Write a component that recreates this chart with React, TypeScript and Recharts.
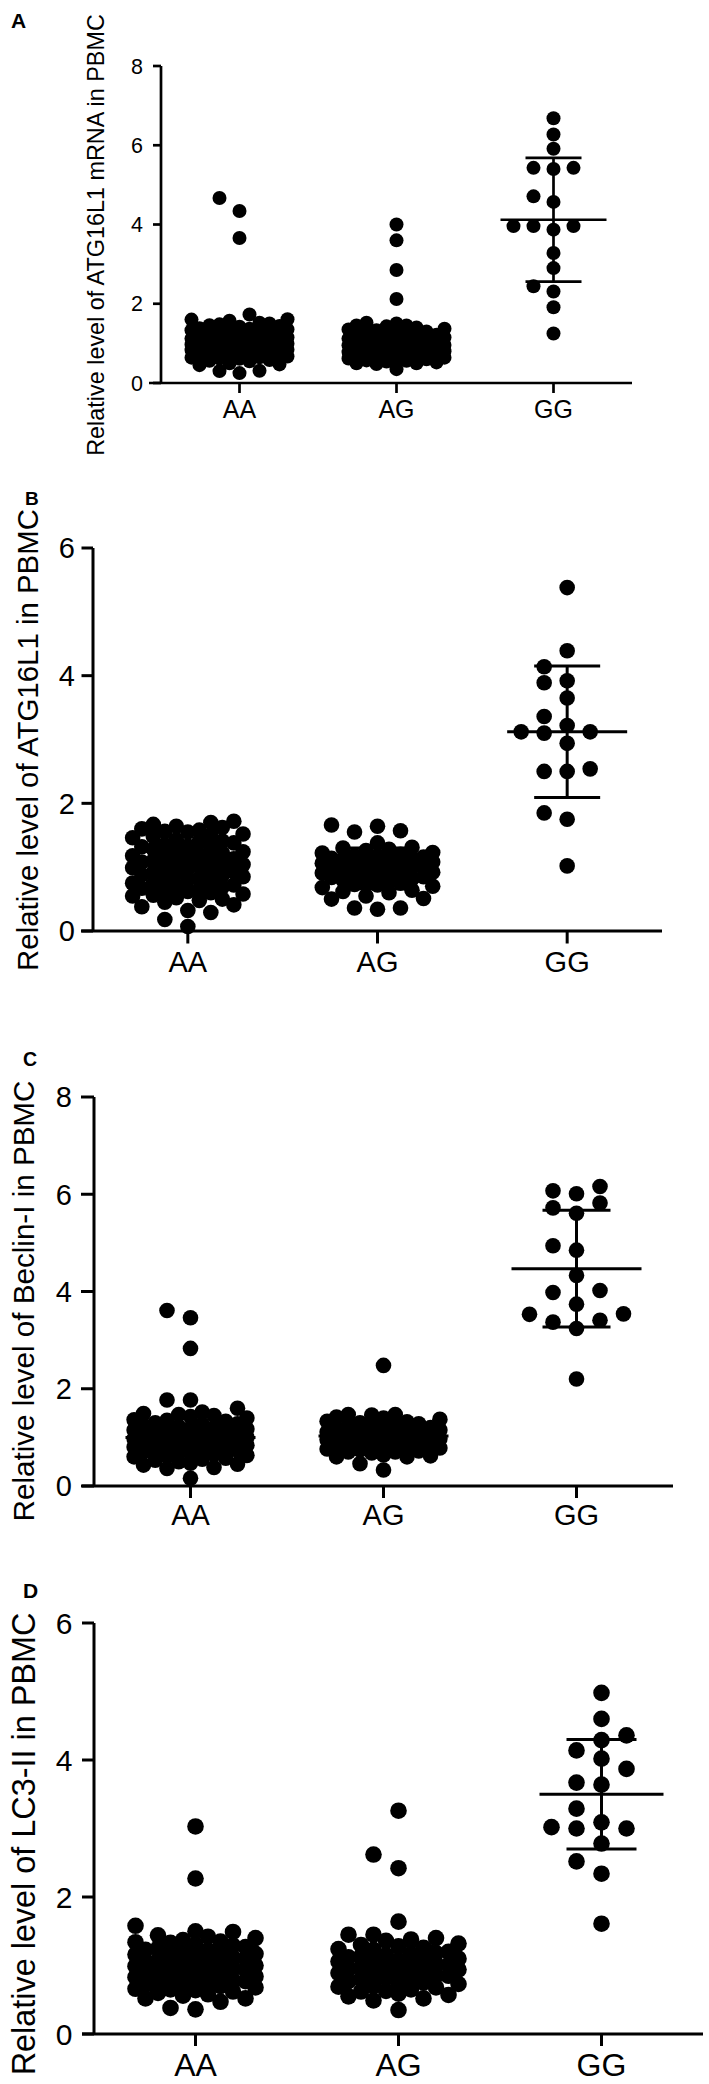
import React from "react";
import { ScatterChart, Scatter, XAxis, YAxis, ErrorBar, ReferenceLine } from "recharts";

const CATS = ["AA", "AG", "GG"];
const FONT = '"Liberation Sans", Arial, Helvetica, sans-serif';

// A: ATG16L1 mRNA
const aAA = [0.25, 0.3, 0.31, 0.45, 0.47, 0.5, 0.55, 0.56, 0.58, 0.61, 0.62, 0.64, 0.65, 0.67, 0.69, 0.7, 0.72, 0.73, 0.75, 0.77, 0.78, 0.8, 0.81, 0.83, 0.84, 0.86, 0.87, 0.88, 0.9, 0.91, 0.92, 0.93, 0.95, 0.96, 0.97, 0.99, 1.0, 1.01, 1.02, 1.03, 1.05, 1.06, 1.08, 1.09, 1.1, 1.12, 1.13, 1.15, 1.17, 1.18, 1.2, 1.21, 1.24, 1.26, 1.28, 1.3, 1.32, 1.33, 1.35, 1.37, 1.38, 1.42, 1.44, 1.46, 1.48, 1.5, 1.52, 1.57, 1.6, 1.61, 1.73, 3.66, 4.34, 4.67];
const aAG = [0.35, 0.48, 0.5, 0.5, 0.52, 0.54, 0.56, 0.57, 0.6, 0.6, 0.62, 0.64, 0.66, 0.68, 0.69, 0.7, 0.72, 0.73, 0.74, 0.76, 0.77, 0.78, 0.8, 0.82, 0.83, 0.84, 0.86, 0.87, 0.89, 0.9, 0.92, 0.93, 0.95, 0.96, 0.97, 0.98, 1.0, 1.02, 1.03, 1.05, 1.06, 1.07, 1.1, 1.12, 1.13, 1.15, 1.17, 1.18, 1.2, 1.22, 1.24, 1.26, 1.28, 1.3, 1.33, 1.35, 1.37, 1.4, 1.43, 1.45, 1.45, 1.5, 1.52, 2.12, 2.85, 3.6, 4.0];
const aGG = [6.68, 6.27, 5.91, 5.43, 5.43, 5.4, 4.71, 4.57, 3.96, 3.87, 3.96, 3.96, 3.28, 2.9, 2.31, 2.44, 1.91, 1.25];
const aMean = [0.98, 0.94, 4.12];
const aSd = [0.36, 0.3, 1.56];

// B: ATG16L1 protein
const bAA = [0.07, 0.18, 0.29, 0.32, 0.38, 0.41, 0.45, 0.48, 0.5, 0.52, 0.55, 0.56, 0.58, 0.6, 0.62, 0.63, 0.65, 0.67, 0.69, 0.71, 0.72, 0.74, 0.75, 0.78, 0.8, 0.82, 0.83, 0.85, 0.87, 0.88, 0.9, 0.92, 0.93, 0.95, 0.97, 0.99, 1.0, 1.02, 1.04, 1.05, 1.07, 1.08, 1.1, 1.11, 1.13, 1.15, 1.16, 1.18, 1.2, 1.22, 1.24, 1.25, 1.28, 1.3, 1.32, 1.33, 1.35, 1.38, 1.4, 1.41, 1.43, 1.46, 1.48, 1.5, 1.52, 1.55, 1.56, 1.58, 1.6, 1.62, 1.64, 1.67, 1.7, 1.72];
const bAG = [0.34, 0.36, 0.36, 0.5, 0.51, 0.55, 0.6, 0.62, 0.64, 0.68, 0.7, 0.72, 0.73, 0.75, 0.77, 0.78, 0.8, 0.82, 0.84, 0.85, 0.86, 0.88, 0.9, 0.91, 0.92, 0.94, 0.95, 0.96, 0.99, 1.0, 1.01, 1.02, 1.03, 1.05, 1.06, 1.08, 1.09, 1.1, 1.12, 1.13, 1.14, 1.16, 1.17, 1.18, 1.2, 1.22, 1.23, 1.26, 1.28, 1.3, 1.31, 1.38, 1.55, 1.57, 1.64, 1.66];
const bGG = [5.38, 4.39, 4.14, 3.92, 3.89, 3.65, 3.36, 3.12, 3.1, 3.12, 3.22, 2.94, 2.54, 2.5, 2.5, 1.85, 1.75, 1.02];
const bMean = [1.03, 0.98, 3.12];
const bSd = [0.37, 0.32, 1.03];

// C: Beclin-I
const cAA = [0.16, 0.36, 0.38, 0.43, 0.45, 0.47, 0.5, 0.53, 0.55, 0.57, 0.6, 0.62, 0.63, 0.65, 0.68, 0.7, 0.71, 0.73, 0.75, 0.77, 0.79, 0.8, 0.82, 0.84, 0.85, 0.86, 0.88, 0.9, 0.92, 0.93, 0.94, 0.96, 0.97, 0.98, 1.0, 1.02, 1.03, 1.05, 1.06, 1.08, 1.09, 1.1, 1.12, 1.14, 1.15, 1.17, 1.19, 1.2, 1.22, 1.25, 1.27, 1.28, 1.3, 1.33, 1.35, 1.36, 1.4, 1.43, 1.45, 1.47, 1.49, 1.52, 1.6, 1.77, 1.77, 2.83, 3.46, 3.61];
const cAG = [0.33, 0.46, 0.6, 0.6, 0.62, 0.64, 0.68, 0.7, 0.7, 0.72, 0.74, 0.76, 0.78, 0.8, 0.82, 0.83, 0.85, 0.87, 0.88, 0.9, 0.92, 0.94, 0.95, 0.97, 0.98, 1.0, 1.01, 1.02, 1.04, 1.05, 1.07, 1.08, 1.1, 1.11, 1.12, 1.15, 1.17, 1.18, 1.2, 1.22, 1.24, 1.25, 1.28, 1.3, 1.32, 1.33, 1.37, 1.4, 1.42, 1.46, 1.47, 1.47, 2.48];
const cGG = [6.16, 6.01, 6.07, 5.72, 5.61, 5.82, 4.85, 4.94, 4.33, 4.02, 3.98, 3.74, 3.53, 3.54, 3.37, 3.41, 3.24, 2.2];
const cMean = [1.0, 1.03, 4.47];
const cSd = [0.25, 0.3, 1.2];

// D: LC3-II
const dAA = [0.36, 0.38, 0.47, 0.52, 0.52, 0.56, 0.58, 0.6, 0.62, 0.64, 0.65, 0.66, 0.68, 0.7, 0.71, 0.72, 0.74, 0.76, 0.77, 0.78, 0.8, 0.82, 0.83, 0.84, 0.86, 0.88, 0.89, 0.9, 0.92, 0.94, 0.95, 0.96, 0.98, 0.99, 1.0, 1.03, 1.04, 1.05, 1.06, 1.08, 1.1, 1.11, 1.12, 1.14, 1.16, 1.17, 1.18, 1.2, 1.22, 1.23, 1.25, 1.27, 1.29, 1.3, 1.33, 1.34, 1.35, 1.37, 1.4, 1.42, 1.44, 1.49, 1.5, 1.58, 2.27, 3.03];
const dAG = [0.35, 0.49, 0.52, 0.55, 0.57, 0.59, 0.62, 0.63, 0.65, 0.68, 0.69, 0.7, 0.73, 0.75, 0.76, 0.77, 0.8, 0.82, 0.83, 0.85, 0.86, 0.88, 0.89, 0.91, 0.92, 0.94, 0.95, 0.97, 0.98, 1.0, 1.01, 1.02, 1.04, 1.06, 1.07, 1.08, 1.1, 1.12, 1.13, 1.15, 1.17, 1.18, 1.2, 1.23, 1.24, 1.26, 1.28, 1.3, 1.32, 1.36, 1.38, 1.4, 1.45, 1.45, 1.64, 2.42, 2.62, 3.26];
const dGG = [4.98, 4.6, 4.29, 4.36, 4.14, 4.02, 3.87, 3.67, 3.64, 3.29, 3.02, 3.0, 3.0, 3.09, 2.78, 2.52, 2.34, 1.61];
const dMean = [0.99, 0.99, 3.5];
const dSd = [0.26, 0.3, 0.8];

// greedy swarm: whole columns first, then half-step slots once the columns are full
function swarm(values: number[], cat: number, pxPerUnit: number, step: number, diam: number) {
  const main = [0, -1, 1, -2, 2];
  const fill = [0, -0.5, 0.5, -1, 1, -1.5, 1.5, -2, 2, -2.4, 2.4];
  const placed: { k: number; v: number }[] = [];
  const minDist = (k: number, v: number) => {
    let m = Infinity;
    for (const p of placed) {
      const dx = (p.k - k) * step;
      const dy = (p.v - v) * pxPerUnit;
      m = Math.min(m, Math.sqrt(dx * dx + dy * dy));
    }
    return m;
  };
  const sorted = [...values].sort((a, b) => a - b);
  return sorted.map((v) => {
    let pick = NaN;
    for (const k of main) {
      if (minDist(k, v) >= diam) {
        pick = k;
        break;
      }
    }
    if (Number.isNaN(pick)) {
      let best = -1;
      for (const k of fill) {
        const d = minDist(k, v);
        if (d > best + 0.5) {
          best = d;
          pick = k;
        }
      }
    }
    placed.push({ k: pick, v });
    return { x: cat + 0.5, y: v, dx: pick * step };
  });
}

type PanelCfg = {
  top: number;
  height: number;
  left: number;
  right: number;
  plotTop: number;
  plotBottom: number;
  yMax: number;
  yTicks: number[];
  groups: number[][];
  means: number[];
  sds: number[];
  r: number;
  step: number;
  meanHalf: number;
  capHalf: number;
  sw: number;
  fontSize: number;
  xFontSize: number;
  yTickSize: number;
  yTickMargin: number;
  xTickSize: number;
  xTickMargin: number;
  letter: string;
  letterX: number;
  letterY: number;
  letterSize: number;
  title: string;
  titleX: number;
  titleCY: number;
  titleSize: number;
};

function DotPanel({ cfg }: { cfg: PanelCfg }) {
  const unit = (cfg.plotBottom - cfg.plotTop) / cfg.yMax;
  const points = cfg.groups.flatMap((g, i) => swarm(g, i, unit, cfg.step, cfg.r * 2));
  const summary = cfg.means.map((m, i) => ({ x: i + 0.5, y: m, sd: cfg.sds[i] }));
  const xh = 50;
  const tl = cfg.titleCY - cfg.top;

  return (
    <div style={{ position: "absolute", left: 0, top: cfg.top }}>
      <ScatterChart
        width={709}
        height={cfg.height}
        margin={{
          top: cfg.plotTop - cfg.top,
          right: 709 - cfg.right,
          bottom: cfg.height - (cfg.plotBottom - cfg.top) - xh,
          left: 0,
        }}
      >
        <XAxis
          type="number"
          dataKey="x"
          domain={[0, 3]}
          ticks={[0.5, 1.5, 2.5]}
          interval={0}
          tickFormatter={(v: number) => CATS[Math.floor(v)]}
          axisLine={false}
          tickLine={{ stroke: "#000", strokeWidth: cfg.sw }}
          tickSize={cfg.xTickSize}
          tickMargin={cfg.xTickMargin}
          tick={{ fill: "#000", fontSize: cfg.xFontSize, fontFamily: FONT }}
          height={xh}
        />
        <YAxis
          type="number"
          dataKey="y"
          domain={[0, cfg.yMax]}
          ticks={cfg.yTicks}
          interval={0}
          width={cfg.left}
          axisLine={{ stroke: "#000", strokeWidth: cfg.sw }}
          tickLine={{ stroke: "#000", strokeWidth: cfg.sw }}
          tickSize={cfg.yTickSize}
          tickMargin={cfg.yTickMargin}
          tick={{ fill: "#000", fontSize: cfg.fontSize, fontFamily: FONT }}
          label={{
            value: cfg.title,
            content: () => (
              <g>
                <text
                  x={cfg.titleX}
                  y={tl}
                  transform={`rotate(-90 ${cfg.titleX} ${tl})`}
                  textAnchor="middle"
                  fontFamily={FONT}
                  fontSize={cfg.titleSize}
                  fill="#000"
                >
                  {cfg.title}
                </text>
                <text
                  x={cfg.letterX}
                  y={cfg.letterY - cfg.top}
                  fontFamily={FONT}
                  fontWeight="bold"
                  fontSize={cfg.letterSize}
                  fill="#000"
                >
                  {cfg.letter}
                </text>
              </g>
            ),
          }}
        />
        <ReferenceLine
          y={0}
          stroke="#000"
          strokeWidth={cfg.sw}
          shape={(p: any) => (
            <line x1={p.x1 - 12} y1={p.y1} x2={p.x2} y2={p.y2} stroke="#000" strokeWidth={cfg.sw} />
          )}
        />
        <Scatter
          data={points}
          isAnimationActive={false}
          shape={(p: any) => <circle cx={p.cx + p.payload.dx} cy={p.cy} r={cfg.r} fill="#000" />}
        />
        <Scatter
          data={summary}
          isAnimationActive={false}
          shape={(p: any) => (
            <line x1={p.cx - cfg.meanHalf} x2={p.cx + cfg.meanHalf} y1={p.cy} y2={p.cy} stroke="#000" strokeWidth={cfg.sw} />
          )}
        >
          <ErrorBar dataKey="sd" direction="y" width={cfg.capHalf} stroke="#000" strokeWidth={cfg.sw} isAnimationActive={false} />
        </Scatter>
      </ScatterChart>
    </div>
  );
}

const panels: PanelCfg[] = [
  {
    top: 0, height: 475, left: 161, right: 632, plotTop: 66, plotBottom: 383,
    yMax: 8, yTicks: [0, 2, 4, 6, 8], groups: [aAA, aAG, aGG], means: aMean, sds: aSd,
    r: 7, step: 20, meanHalf: 53, capHalf: 28, sw: 2.7, fontSize: 21.5, xFontSize: 25,
    yTickSize: 8, yTickMargin: 10, xTickSize: 10, xTickMargin: 7,
    letter: "A", letterX: 11, letterY: 28, letterSize: 21,
    title: "Relative level of ATG16L1 mRNA in PBMC", titleX: 104, titleCY: 235, titleSize: 23.4,
  },
  {
    top: 480, height: 520, left: 93, right: 662, plotTop: 548, plotBottom: 931,
    yMax: 6, yTicks: [0, 2, 4, 6], groups: [bAA, bAG, bGG], means: bMean, sds: bSd,
    r: 7.8, step: 23, meanHalf: 60, capHalf: 33, sw: 3, fontSize: 29, xFontSize: 29,
    yTickSize: 11.5, yTickMargin: 6.5, xTickSize: 12.5, xTickMargin: 8,
    letter: "B", letterX: 25, letterY: 505, letterSize: 19,
    title: "Relative level of ATG16L1 in PBMC", titleX: 38, titleCY: 740, titleSize: 29.4,
  },
  {
    top: 1030, height: 510, left: 94, right: 673, plotTop: 1097, plotBottom: 1486,
    yMax: 8, yTicks: [0, 2, 4, 6, 8], groups: [cAA, cAG, cGG], means: cMean, sds: cSd,
    r: 7.8, step: 23.5, meanHalf: 65, capHalf: 34, sw: 3, fontSize: 29, xFontSize: 29,
    yTickSize: 13, yTickMargin: 9, xTickSize: 12, xTickMargin: 6.7,
    letter: "C", letterX: 23, letterY: 1066, letterSize: 19.5,
    title: "Relative level of Beclin-I in PBMC", titleX: 34, titleCY: 1301, titleSize: 29.6,
  },
  {
    top: 1570, height: 514, left: 94, right: 703, plotTop: 1623, plotBottom: 2034,
    yMax: 6, yTicks: [0, 2, 4, 6], groups: [dAA, dAG, dGG], means: dMean, sds: dSd,
    r: 8.3, step: 25, meanHalf: 62, capHalf: 35, sw: 3, fontSize: 30, xFontSize: 32,
    yTickSize: 12, yTickMargin: 9.6, xTickSize: 12, xTickMargin: 7.3,
    letter: "D", letterX: 23, letterY: 1598, letterSize: 21,
    title: "Relative level of LC3-II in PBMC", titleX: 35, titleCY: 1844, titleSize: 32.4,
  },
];

export default function App() {
  return (
    <div style={{ position: "absolute", left: 0, top: 0, width: 709, height: 2084, background: "#fff", fontFamily: FONT }}>
      {panels.map((p) => (
        <DotPanel key={p.letter} cfg={p} />
      ))}
    </div>
  );
}
